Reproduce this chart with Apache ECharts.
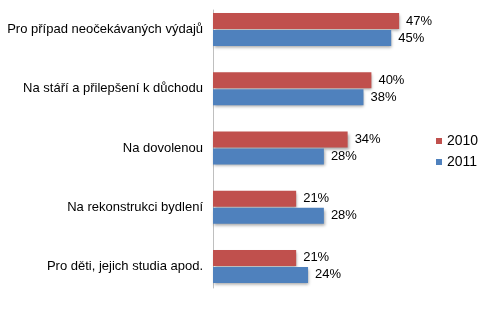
<!DOCTYPE html>
<html>
<head>
<meta charset="utf-8">
<script src="https://cdn.jsdelivr.net/npm/echarts@6/dist/echarts.min.js"></script>
<style>
  html, body { margin: 0; padding: 0; background: #fff; }
  #chart { width: 497px; height: 331px; }
</style>
</head>
<body>
<div id="chart"></div>
<script>
// Účel spoření – srovnání let 2010 a 2011 (v %)
const categories = [
  'Pro případ neočekávaných výdajů',
  'Na stáří a přilepšení k důchodu',
  'Na dovolenou',
  'Na rekonstrukci bydlení',
  'Pro děti, jejich studia apod.'
];
const values2010 = [47, 40, 34, 21, 21];
const values2011 = [45, 38, 28, 28, 24];
const seriesNames = ['2010', '2011'];

const chart = echarts.init(document.getElementById('chart'));

const font = 'Arial, "Liberation Sans", sans-serif';
const barShadow = {
  shadowColor: 'rgba(0,0,0,0.35)',
  shadowBlur: 3,
  shadowOffsetX: 1,
  shadowOffsetY: 2
};

function barSeries(name, data, color) {
  return {
    name: name,
    type: 'bar',
    xAxisIndex: 0,
    yAxisIndex: 0,
    data: data,
    barWidth: 16,
    barGap: '6%',
    itemStyle: Object.assign({ color: color }, barShadow),
    label: {
      show: true,
      position: 'right',
      distance: 7,
      formatter: '{c}%',
      fontFamily: font,
      fontSize: 13,
      color: '#000'
    },
    emphasis: { disabled: true }
  };
}

chart.setOption({
  animation: false,
  backgroundColor: '#fff',
  legend: {
    orient: 'vertical',
    left: 431,
    top: 129,
    itemWidth: 6,
    itemHeight: 6,
    itemGap: 7,
    icon: 'rect',
    textStyle: { fontFamily: font, fontSize: 14, color: '#000' },
    data: seriesNames
  },
  grid: [
    // plot area of the bars
    { left: 213, right: 86, top: -2, height: 298, containLabel: false },
    // frame carrying the visible vertical axis line
    { left: 213, right: 86, top: 10, bottom: 43, containLabel: false }
  ],
  xAxis: [
    {
      gridIndex: 0,
      type: 'value',
      min: 0,
      max: 50,
      show: false
    },
    {
      gridIndex: 1,
      type: 'value',
      min: 0,
      max: 50,
      show: false
    }
  ],
  yAxis: [
    {
      gridIndex: 0,
      type: 'category',
      inverse: true,
      data: categories,
      axisLine: { show: false },
      axisTick: { show: false },
      axisLabel: {
        margin: 10,
        fontFamily: font,
        fontSize: 13,
        color: '#000'
      }
    },
    {
      gridIndex: 1,
      type: 'category',
      data: [],
      axisLine: { show: true, lineStyle: { color: '#bfbfbf', width: 1 } },
      axisTick: { show: false },
      axisLabel: { show: false }
    }
  ],
  series: [
    barSeries(seriesNames[0], values2010, '#C0504D'),
    barSeries(seriesNames[1], values2011, '#4F81BD')
  ]
});
</script>
</body>
</html>
